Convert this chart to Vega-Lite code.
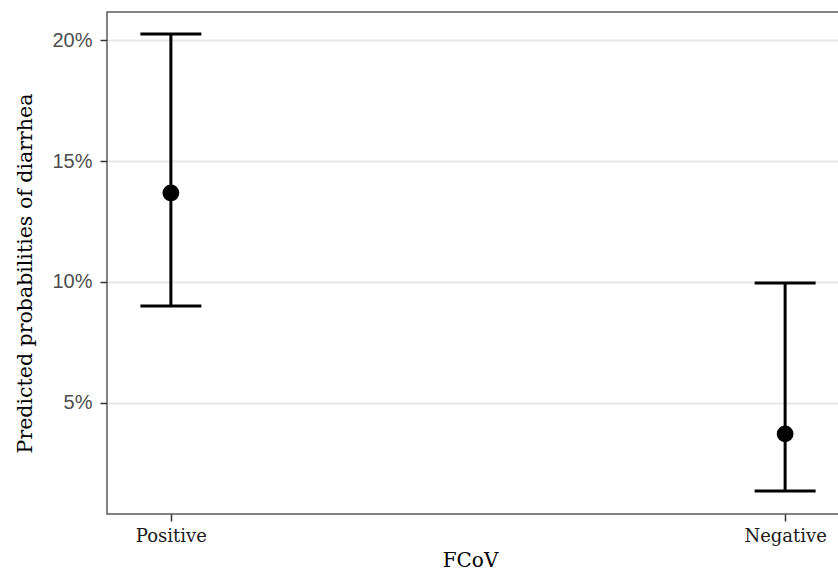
{
  "$schema": "https://vega.github.io/schema/vega-lite/v6.json",
  "autosize": {"type": "none"},
  "width": 742,
  "height": 502,
  "padding": {"left": 107, "top": 12, "right": 0, "bottom": 59},
  "background": "white",
  "data": {"values": [
    {"FCoV": "Positive", "est": 0.1368, "lo": 0.0901, "hi": 0.2025},
    {"FCoV": "Negative", "est": 0.0372, "lo": 0.0136, "hi": 0.0996}
  ]},
  "config": {
    "view": {"stroke": "#595959", "strokeWidth": 1.5},
    "axis": {"domain": false, "tickColor": "#333333", "tickWidth": 1.5, "tickSize": 7}
  },
  "encoding": {
    "x": {
      "field": "FCoV", "type": "nominal", "sort": ["Positive", "Negative"],
      "scale": {"type": "point", "padding": 0.104},
      "axis": {
        "title": "FCoV", "titleFont": "DejaVu Serif", "titleFontSize": 20, "titleFontWeight": "normal",
        "titleColor": "#000000", "titleX": 363, "titlePadding": 5,
        "labelFont": "DejaVu Serif", "labelFontSize": 18, "labelColor": "#1a1a1a", "labelPadding": 6,
        "labelAngle": 0, "grid": false
      }
    }
  },
  "layer": [
    {
      "mark": {"type": "rule", "color": "black", "strokeWidth": 3},
      "encoding": {
        "y": {
          "field": "lo", "type": "quantitative",
          "scale": {"domain": [0.0041, 0.2116], "nice": false, "zero": false},
          "axis": {
            "title": "Predicted probabilities of diarrhea", "titleFont": "DejaVu Serif", "titleFontSize": 20.5,
            "titleFontWeight": "normal", "titleColor": "#000000", "titlePadding": 16, "titleY": 261,
            "format": ".0%", "values": [0.05, 0.1, 0.15, 0.2],
            "labelFont": "Liberation Sans", "labelFontSize": 20, "labelColor": "#4d4d4d", "labelPadding": 8,
            "grid": true, "gridColor": "#e8e8e8", "gridWidth": 2
          }
        },
        "y2": {"field": "hi"}
      }
    },
    {
      "mark": {"type": "tick", "color": "black", "thickness": 3, "size": 61, "opacity": 1},
      "encoding": {"y": {"field": "lo", "type": "quantitative"}}
    },
    {
      "mark": {"type": "tick", "color": "black", "thickness": 3, "size": 61, "opacity": 1},
      "encoding": {"y": {"field": "hi", "type": "quantitative"}}
    },
    {
      "mark": {"type": "point", "shape": "circle", "filled": true, "color": "black", "size": 280, "opacity": 1},
      "encoding": {"y": {"field": "est", "type": "quantitative"}}
    }
  ]
}
